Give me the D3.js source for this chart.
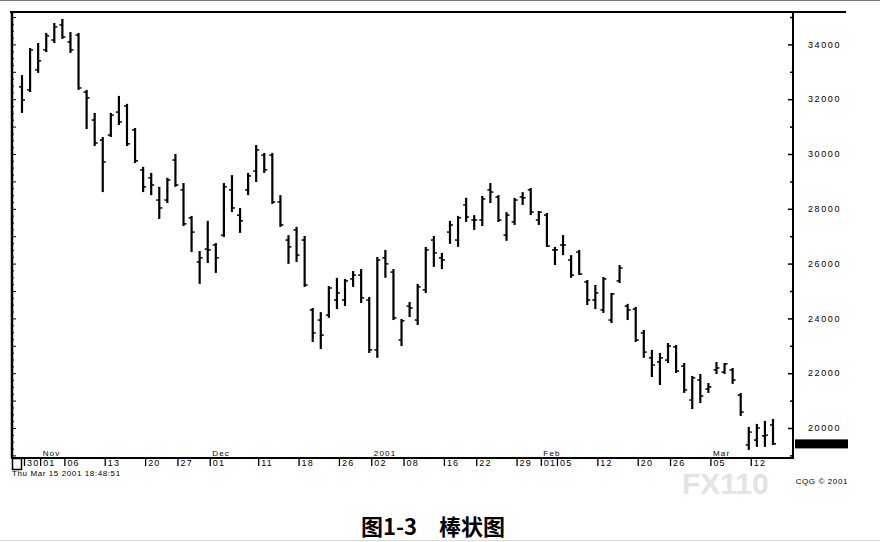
<!DOCTYPE html>
<html>
<head>
<meta charset="utf-8">
<script src="https://cdn.jsdelivr.net/npm/d3@7"></script>
<style>
  html, body { margin: 0; padding: 0; background: #fff; }
  svg { display: block; }
</style>
</head>
<body>
<svg id="chart" width="880" height="542"></svg>
<script>
const dates = [
  "2000-10-30","2000-10-31",
  "2000-11-01","2000-11-02","2000-11-03","2000-11-06","2000-11-07","2000-11-08","2000-11-09","2000-11-10","2000-11-13","2000-11-14","2000-11-15","2000-11-16","2000-11-17","2000-11-20","2000-11-21","2000-11-22","2000-11-24","2000-11-27","2000-11-28","2000-11-29","2000-11-30",
  "2000-12-01","2000-12-04","2000-12-05","2000-12-06","2000-12-07","2000-12-08","2000-12-11","2000-12-12","2000-12-13","2000-12-14","2000-12-15","2000-12-18","2000-12-19","2000-12-20","2000-12-21","2000-12-22","2000-12-26","2000-12-27","2000-12-28","2000-12-29",
  "2001-01-02","2001-01-03","2001-01-04","2001-01-05","2001-01-08","2001-01-09","2001-01-10","2001-01-11","2001-01-12","2001-01-16","2001-01-17","2001-01-18","2001-01-19","2001-01-22","2001-01-23","2001-01-24","2001-01-25","2001-01-26","2001-01-29","2001-01-30","2001-01-31",
  "2001-02-01","2001-02-02","2001-02-05","2001-02-06","2001-02-07","2001-02-08","2001-02-09","2001-02-12","2001-02-13","2001-02-14","2001-02-15","2001-02-16","2001-02-20","2001-02-21","2001-02-22","2001-02-23","2001-02-26","2001-02-27","2001-02-28",
  "2001-03-01","2001-03-02","2001-03-05","2001-03-06","2001-03-07","2001-03-08","2001-03-09","2001-03-12","2001-03-13","2001-03-14","2001-03-15"
];

const openVals = [
  32450,32340,33070,33800,34160,34710,34090,34340,32260,31240,
  30510,30690,31530,31750,30880,29420,29130,28320,28320,29780,
  28690,27670,26060,26530,26680,27040,28690,27770,28690,29380,
  29960,29960,28250,26860,27230,26860,24310,23940,24120,24670,
  24670,25440,25580,24670,22850,26210,25690,23210,24450,23940,
  25040,26860,26210,27150,26860,28140,27590,27590,28690,28430,
  27040,27520,28430,28690,27590,27770,26500,26680,26130,26420,
  25330,24670,24310,23940,25370,24450,24340,23470,22560,22410,
  22480,22960,22260,21020,21750,21420,22120,22040,22120,21200,
  19380,19560,19710,20110
];
const highVals = [
  32880,33870,34050,34420,34780,34930,34450,34420,32340,31500,
  30620,31500,32120,31830,30950,29530,29310,28800,29130,30000,
  28940,27740,26460,27560,26750,28940,29230,28030,29310,30330,
  30040,30040,28500,27040,27340,27010,24380,24230,25180,25480,
  25440,25730,25800,24780,26240,26500,25800,23980,24600,25260,
  26610,27010,26390,27560,27740,28400,27770,28470,28940,28500,
  27880,28400,28610,28760,27920,27850,26610,27040,26310,26500,
  25400,25220,25510,24930,25950,24530,24420,23580,22850,22740,
  23100,23030,22370,21900,21970,21640,22410,22370,22190,21280,
  20040,20150,20260,20330
];
const lowVals = [
  31500,32260,32960,33720,34050,34200,33690,32340,30910,30290,
  28610,30620,31060,30290,29670,28610,28500,27630,28210,28800,
  27370,26420,25260,26020,25660,26970,27880,27120,28500,28980,
  29310,28180,27340,25990,26060,25150,23140,22880,24020,24340,
  24450,25150,24560,22740,22560,25480,23940,22990,24050,23760,
  24930,25880,25800,26720,26610,27520,27230,27370,28210,27520,
  26830,27410,28140,27770,27410,26610,25950,26310,25480,25580,
  24490,24340,24200,23830,25290,23940,23140,22560,21860,21570,
  22370,22010,21280,20690,20910,21280,21970,21970,21610,20440,
  19200,19310,19310,19380
];
const closeVals = [
  31970,33800,33400,34310,34640,34270,33800,32410,32050,30400,
  29710,31420,31170,30370,29750,28800,28870,28030,29050,28870,
  27450,27150,26210,26500,26210,28800,28030,27560,29200,30150,
  29420,28250,27410,26610,26310,25220,23470,23390,25110,24930,
  25370,25580,24750,22850,26130,25990,24020,23910,24380,25150,
  26500,26390,26130,27410,27670,27700,27590,28360,28610,27590,
  27770,28320,28400,27880,27880,26640,26500,26680,25580,25620,
  24670,24930,25440,24890,25840,24310,23210,22770,22300,22560,
  22990,22080,21390,21830,21170,21500,22190,22340,21750,20580,
  19850,20000,19740,19420
];

const tickDates = ["2000-10-30","2000-11-01","2000-11-06","2000-11-13","2000-11-20","2000-11-27","2000-12-01","2000-12-11","2000-12-18","2000-12-26","2001-01-02","2001-01-08","2001-01-16","2001-01-22","2001-01-29","2001-02-01","2001-02-05","2001-02-12","2001-02-20","2001-02-26","2001-03-05","2001-03-12"];
const tickLabels = ["30","01","06","13","20","27","01","11","18","26","02","08","16","22","29","01","05","12","20","26","05","12"];
const monthDates = ["2000-11-01","2000-12-01","2001-01-02","2001-02-01","2001-03-05"];
const monthLabels = ["Nov","Dec","2001","Feb","Mar"];
const priceTicks = [20000,22000,24000,26000,28000,30000,32000,34000];
const priceLabels = ["20000","22000","24000","26000","28000","30000","32000","34000"];

const svg = d3.select("#chart");
const L = 12, R = 793, T = 13, B = 458;

const x = d3.scalePoint().domain(dates).range([22, 773]);
const y = d3.scaleLinear().domain([18905, 35146]).range([B, T]);

const bars = dates.map((d, i) => ({d, o: openVals[i], h: highVals[i], l: lowVals[i], c: closeVals[i]}));

// page border lines
svg.append("line").attr("x1", 0).attr("x2", 880).attr("y1", 0.5).attr("y2", 0.5).attr("stroke", "#777").attr("stroke-width", 1);
svg.append("line").attr("x1", 0).attr("x2", 880).attr("y1", 540.5).attr("y2", 540.5).attr("stroke", "#ddd").attr("stroke-width", 1);

// watermark (drawn first, low in the footer band)
svg.append("text").attr("x", 682).attr("y", 494)
  .attr("font-family", "Liberation Sans, Arial, sans-serif").attr("font-size", 30)
  .attr("font-weight", "bold").attr("fill", "#e3e3e3")
  .text("FX110");

// top frame
svg.append("line").attr("x1", L - 2).attr("x2", 846).attr("y1", 12).attr("y2", 12).attr("stroke", "#000").attr("stroke-width", 2);

// left axis (inward minor ticks)
const minorLeft = d3.range(19000, 35001, 250);
const leftG = svg.append("g").attr("transform", `translate(${L},0)`)
  .call(d3.axisRight(y).tickValues(minorLeft).tickSize(3).tickFormat(""));
leftG.selectAll(".tick line").attr("stroke", "#000").attr("stroke-width", 1)
  .attr("x2", d => d % 1000 === 0 ? 4 : 2);
leftG.select(".domain").remove();
svg.append("line").attr("x1", L).attr("x2", L).attr("y1", 11).attr("y2", B + 1).attr("stroke", "#000").attr("stroke-width", 2.5);

// right axis
const minorRight = d3.range(19000, 35001, 1000);
const rightG = svg.append("g").attr("transform", `translate(${R},0)`)
  .call(d3.axisLeft(y).tickValues(minorRight).tickSize(3).tickFormat(""));
rightG.selectAll(".tick line").attr("stroke", "#000").attr("stroke-width", 1.5)
  .attr("x2", d => d % 2000 === 0 ? -5 : -3);
rightG.select(".domain").remove();
svg.append("line").attr("x1", R).attr("x2", R).attr("y1", T).attr("y2", B + 1).attr("stroke", "#000").attr("stroke-width", 2);

// price labels
svg.append("g").selectAll("text").data(priceTicks).join("text")
  .attr("x", 808).attr("y", d => y(d)).attr("dy", "0.35em")
  .attr("font-family", "Liberation Sans, Arial, sans-serif").attr("font-size", 9)
  .attr("letter-spacing", 1.6).attr("fill", "#000")
  .text((d, i) => priceLabels[i]);

// last price marker
svg.append("rect").attr("x", 795).attr("y", y(closeVals[closeVals.length - 1]) - 4.5)
  .attr("width", 53).attr("height", 9).attr("fill", "#000");

// bottom axis
const labelMap = new Map(tickDates.map((d, i) => [d, tickLabels[i]]));
const bottomG = svg.append("g").attr("transform", `translate(2,${B})`)
  .call(d3.axisBottom(x).tickValues(tickDates).tickSize(8).tickFormat(d => labelMap.get(d)));
bottomG.select(".domain").remove();
bottomG.selectAll(".tick line").attr("stroke", "#000").attr("stroke-width", 1.3);
bottomG.selectAll(".tick text")
  .attr("text-anchor", "start").attr("x", 2.5).attr("y", 2).attr("dy", "0.71em")
  .attr("font-family", "Liberation Sans, Arial, sans-serif").attr("font-size", 9)
  .attr("letter-spacing", 1.2).attr("fill", "#000");
svg.append("line").attr("x1", L).attr("x2", R).attr("y1", B).attr("y2", B).attr("stroke", "#000").attr("stroke-width", 2);

// bottom-left box
svg.append("rect").attr("x", 12.5).attr("y", 458.5).attr("width", 9).attr("height", 11)
  .attr("fill", "none").attr("stroke", "#000").attr("stroke-width", 1.5);

// month labels
svg.append("g").selectAll("text").data(monthDates).join("text")
  .attr("x", d => x(d) + 4.5).attr("y", 455.5)
  .attr("font-family", "Liberation Sans, Arial, sans-serif").attr("font-size", 8)
  .attr("letter-spacing", 1.2).attr("fill", "#000")
  .text((d, i) => monthLabels[i]);

// OHLC bars
const g = svg.append("g");
g.selectAll("line.hl").data(bars).join("line").attr("class", "hl")
  .attr("x1", b => x(b.d)).attr("x2", b => x(b.d))
  .attr("y1", b => y(b.h)).attr("y2", b => y(b.l))
  .attr("stroke", "#000").attr("stroke-width", 2.2);
g.selectAll("line.op").data(bars).join("line").attr("class", "op")
  .attr("x1", b => x(b.d) - 3).attr("x2", b => x(b.d))
  .attr("y1", b => y(b.o)).attr("y2", b => y(b.o))
  .attr("stroke", "#000").attr("stroke-width", 1.5);
g.selectAll("line.cl").data(bars).join("line").attr("class", "cl")
  .attr("x1", b => x(b.d)).attr("x2", b => x(b.d) + 3)
  .attr("y1", b => y(b.c)).attr("y2", b => y(b.c))
  .attr("stroke", "#000").attr("stroke-width", 1.5);

// footer texts
svg.append("text").attr("x", 12).attr("y", 476)
  .attr("font-family", "Liberation Sans, Arial, sans-serif").attr("font-size", 8)
  .attr("letter-spacing", 0.6).attr("fill", "#000")
  .text("Thu Mar 15 2001 18:48:51");

svg.append("text").attr("x", 848).attr("y", 484).attr("text-anchor", "end")
  .attr("font-family", "Liberation Sans, Arial, sans-serif").attr("font-size", 8)
  .attr("letter-spacing", 0.6).attr("fill", "#000")
  .text("CQG © 2001");

// caption
svg.append("text").attr("x", 433).attr("y", 535).attr("text-anchor", "middle")
  .attr("font-family", "Noto Sans CJK SC, sans-serif").attr("font-size", 22)
  .attr("font-weight", "bold").attr("fill", "#000")
  .attr("xml:space", "preserve")
  .text("图1-3　棒状图");
</script>
</body>
</html>
